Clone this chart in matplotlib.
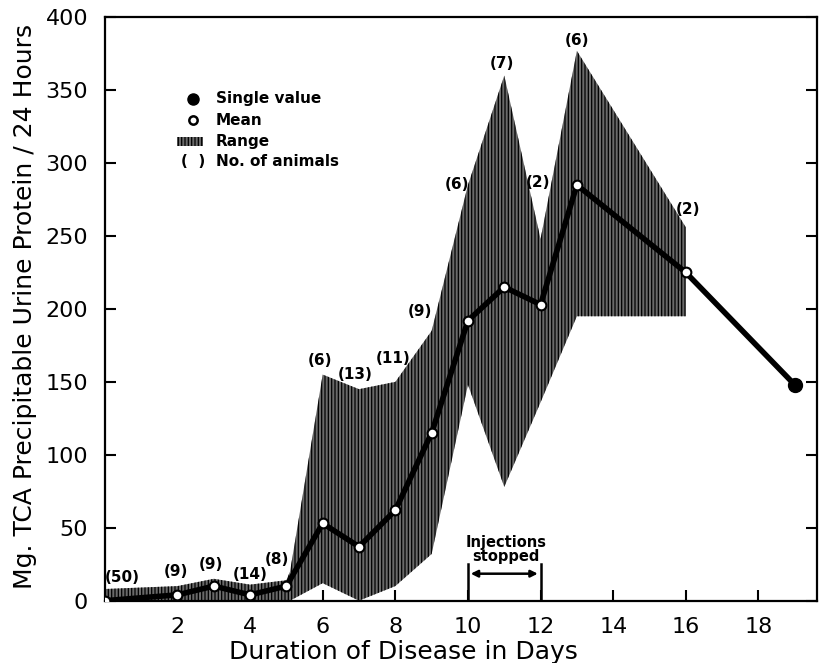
import matplotlib
matplotlib.use("Agg")
import matplotlib.pyplot as plt
from matplotlib.patches import Rectangle

# ---- data ----
mean_days = [0, 2, 3, 4, 5, 6, 7, 8, 9, 10, 11, 12, 13, 16]
mean_vals = [0, 4, 10, 4, 10, 53, 37, 62, 115, 192, 215, 203, 285, 225]
single_day = [19]
single_val = [148]

range_days = [0, 2, 3, 4, 5, 5.1, 6, 7, 8, 9, 10, 11, 12, 13, 16]
range_upper = [8, 10, 15, 11, 14, 20, 155, 145, 150, 185, 285, 360, 248, 377, 256]
range_lower = [0, 0, 0, 0, 0, 0, 12, 0, 10, 32, 148, 78, 136, 195, 195]

counts = ["(50)", "(9)", "(9)", "(14)", "(8)", "(6)", "(13)", "(11)", "(9)",
          "(6)", "(7)", "(2)", "(6)", "(2)"]
count_x = [0.47, 1.96, 2.92, 3.99, 4.74, 5.92, 6.89, 7.93, 8.68, 9.70, 10.94, 11.93, 13.0, 16.06]
count_y = [16, 20, 25, 18, 28, 165, 155, 166, 198, 285, 368, 287, 384, 268]

x_ticks = [2, 4, 6, 8, 10, 12, 14, 16, 18]
y_ticks = [0, 50, 100, 150, 200, 250, 300, 350, 400]

plt.rcParams['font.family'] = ['DejaVu Sans']
plt.rcParams['hatch.linewidth'] = 0.9

fig = plt.figure(figsize=(8.19, 6.63), dpi=100)
ax = fig.add_axes([0.128, 0.094, 0.869, 0.880])

ax.fill_between(range_days, range_lower, range_upper, facecolor='#6a6a6a',
                edgecolor='black', hatch='|||||', linewidth=0, zorder=1)

ax.plot(mean_days + single_day, mean_vals + single_val, color='black', lw=4, zorder=2)
ax.plot(mean_days, mean_vals, 'o', ms=7, mfc='white', mec='black', mew=1.5, zorder=3)
ax.plot(single_day, single_val, 'o', ms=10, color='black', zorder=3)

for t, x, y in zip(counts, count_x, count_y):
    ax.text(x, y, t, ha='center', va='center', fontsize=11, fontweight='bold')

# injections stopped annotation
ax.annotate('', xy=(10, 18.5), xytext=(12, 18.5),
            arrowprops=dict(arrowstyle='<|-|>', color='black', lw=1.8, mutation_scale=10))
ax.plot([10, 10], [0, 25], color='black', lw=1.8)
ax.plot([12, 12], [0, 25], color='black', lw=1.8)
ax.text(11.05, 35, 'Injections\nstopped', ha='center', va='center', fontsize=10.5,
        fontweight='bold', linespacing=0.9)

# legend
lx, tx = 2.42, 3.05
ax.plot([lx], [344], 'o', ms=8, color='black')
ax.text(tx, 344, 'Single value', va='center', fontsize=11, fontweight='bold')
ax.plot([lx], [329.5], 'o', ms=6, mfc='white', mec='black', mew=1.8)
ax.text(tx, 329.5, 'Mean', va='center', fontsize=11, fontweight='bold')
ax.add_patch(Rectangle((lx - 0.42, 312), 0.7, 6, facecolor='#6a6a6a', edgecolor='black',
                       hatch='|||||', linewidth=0))
ax.text(tx, 315, 'Range', va='center', fontsize=11, fontweight='bold')
ax.text(lx, 301, '(  )', ha='center', va='center', fontsize=11, fontweight='bold')
ax.text(tx, 301, 'No. of animals', va='center', fontsize=11, fontweight='bold')

ax.set_xlim(0, 19.6)
ax.set_ylim(0, 400)
ax.set_xticks(x_ticks)
ax.set_yticks(y_ticks)
ax.tick_params(direction='in', length=8, width=1.5, labelsize=16, right=True, top=False)
ax.tick_params(axis='y', pad=12)
ax.tick_params(axis='x', pad=12)
for s in ax.spines.values():
    s.set_linewidth(1.6)

ax.set_xlabel('Duration of Disease in Days', fontsize=18)
ax.set_ylabel('Mg. TCA Precipitable Urine Protein / 24 Hours', fontsize=18)
ax.xaxis.set_label_coords(0.42, -0.068)
ax.yaxis.set_label_coords(-0.095, 0.505)

fig.savefig('out.png', dpi=100)
